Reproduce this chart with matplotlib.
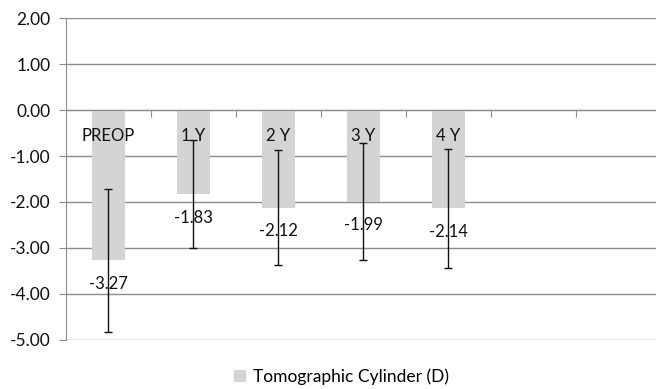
import matplotlib
matplotlib.use("Agg")
import matplotlib.pyplot as plt
import numpy as np

# data
categories = ["PREOP", "1 Y", "2 Y", "3 Y", "4 Y"]
means = [-3.27, -1.83, -2.12, -1.99, -2.14]
sds = [1.55, 1.17, 1.24, 1.28, 1.30]
n_slots = 7  # the axis has two empty category slots on the right
yticks = [2, 1, 0, -1, -2, -3, -4, -5]

plt.rcParams['font.family'] = ['Lato', 'DejaVu Sans']

fig = plt.figure(figsize=(6.56, 3.89), dpi=100)
ax = fig.add_axes([0.1006, 0.126, 0.907, 0.8277])

x = np.arange(len(categories))
bars = ax.bar(x, means, width=0.39, color='#d4d4d4', zorder=2,
              label='Tomographic Cylinder (D)')
ax.errorbar(x, means, yerr=sds, fmt='none', ecolor='#111111',
            elinewidth=1.0, capsize=3, capthick=1.0, zorder=3)

# labels: category name near the zero line, value below bar end
for xi, name, m in zip(x, categories, means):
    ax.annotate(name, (xi, 0), xytext=(0, -19), textcoords='offset points',
                ha='center', va='center', fontsize=12, color='#111111', zorder=4)
    ax.annotate('%.2f' % m, (xi, m), xytext=(0, -17), textcoords='offset points',
                ha='center', va='center', fontsize=12, color='#111111', zorder=4)

ax.set_ylim(-5, 2)
ax.set_xlim(-0.5, n_slots - 0.5)
ax.set_yticks(yticks)
ax.set_yticklabels(['%.2f' % v for v in yticks])
ax.yaxis.grid(True, color='#8c8c8c', linewidth=1, zorder=0)
ax.set_axisbelow(True)

ax.set_xticks(np.arange(1, n_slots) - 0.5)
ax.set_xticklabels([])
ax.tick_params(axis='x', length=5, color='#8c8c8c', direction='out')
ax.tick_params(axis='y', length=5, color='#8c8c8c', labelsize=12.5,
               labelcolor='#111111', pad=6)

for s in ['top', 'right']:
    ax.spines[s].set_visible(False)
ax.spines['bottom'].set_position(('data', 0))
ax.spines['bottom'].set_color('#8c8c8c')
ax.spines['left'].set_color('#8c8c8c')

fig.legend(handles=[bars], loc='lower center', bbox_to_anchor=(0.52, -0.03),
           frameon=False, fontsize=12.5, handlelength=0.7, handleheight=0.7,
           handletextpad=0.4)

fig.savefig('out.png', dpi=100)
